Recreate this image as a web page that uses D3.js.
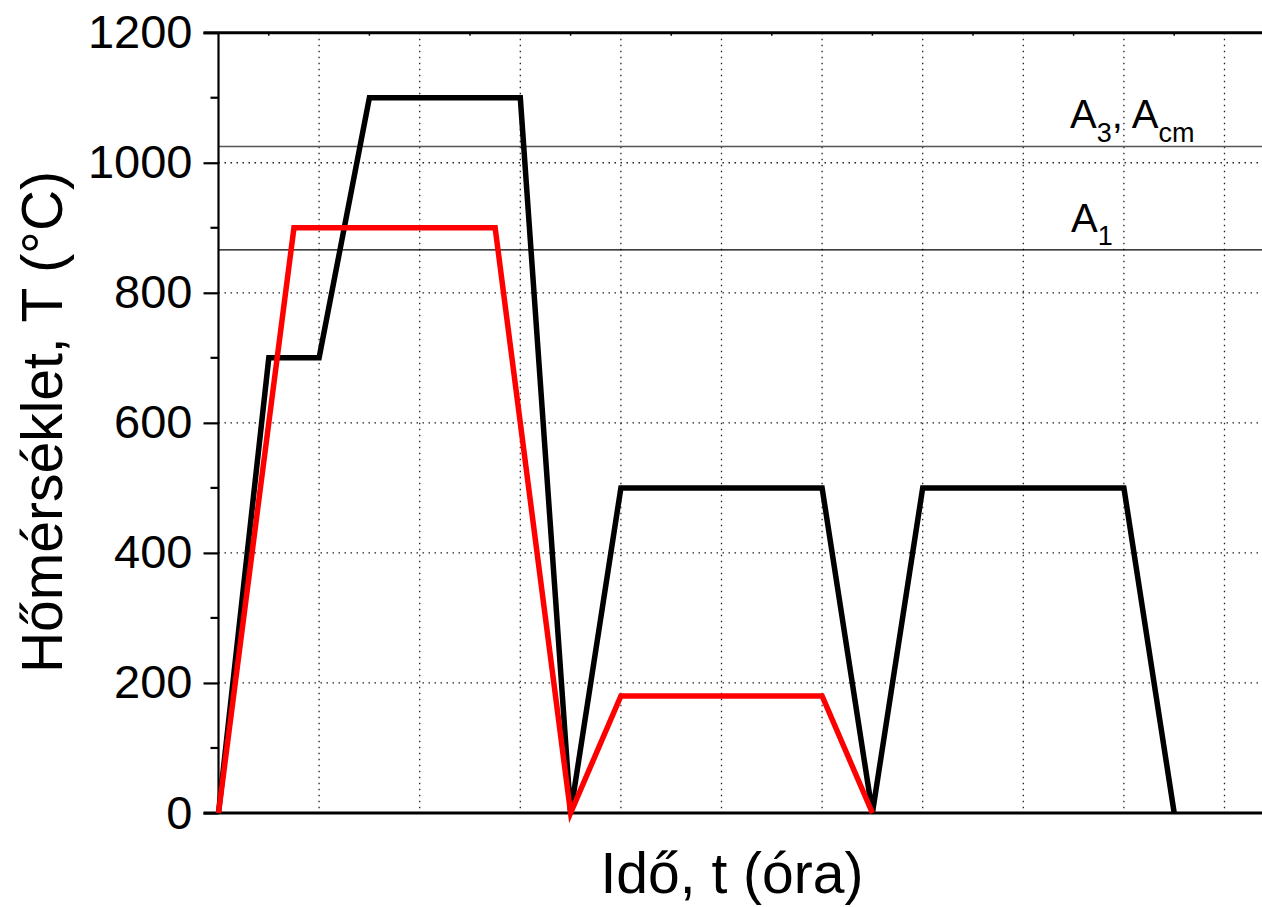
<!DOCTYPE html>
<html>
<head>
<meta charset="utf-8">
<script src="https://cdn.jsdelivr.net/npm/d3@7"></script>
<style>
  body { margin: 0; background: #fff; }
  svg { display: block; font-family: Arial, "Liberation Sans", sans-serif; }
  .grid line { stroke: #222; stroke-width: 1.3; stroke-dasharray: 1.5 4.5; }
</style>
</head>
<body>
<div class="container"></div>
<script>
// time in hours, temperature in °C
var blackT = [0, 0.5, 1.0, 1.5, 3.0, 3.5, 4.0, 6.0, 6.5, 7.0, 9.0, 9.5];
var blackV = [0, 700, 700, 1100, 1100, 0, 500, 500, 0, 500, 500, 0];
var redT = [0, 0.75, 2.75, 3.5, 4.0, 6.0, 6.5];
var redV = [0, 900, 900, 0, 180, 180, 0];

var critNames = ["A3", "A1"];
var critTemps = [1025, 866];

var yTicks = [0, 200, 400, 600, 800, 1000, 1200];
var yMinor = d3.range(100, 1200, 200);
var xGrid = d3.range(1, 11);

var width = 1262, height = 907;
var x0 = 218.5, unit = 100.6;

var svg = d3.select(".container").append("svg")
  .attr("width", width).attr("height", height);

var x = d3.scaleLinear().domain([0, 10.5]).range([x0, x0 + 10.5 * unit]);
var y = d3.scaleLinear().domain([0, 1200]).range([813, 32.7]);

// dotted grid
var grid = svg.append("g").attr("class", "grid");
grid.selectAll(".v").data(xGrid).enter().append("line")
  .attr("x1", d => x(d)).attr("x2", d => x(d))
  .attr("y1", y(1200)).attr("y2", y(0));
grid.selectAll(".h").data(yTicks.filter(d => d > 0 && d < 1200)).enter().append("line")
  .attr("x1", x(0)).attr("x2", width)
  .attr("y1", d => y(d)).attr("y2", d => y(d));

// critical temperature lines
svg.append("line")
  .attr("x1", x(0)).attr("x2", width)
  .attr("y1", y(critTemps[0])).attr("y2", y(critTemps[0]))
  .attr("stroke", "#555").attr("stroke-width", 1.6);
svg.append("line")
  .attr("x1", x(0)).attr("x2", width)
  .attr("y1", y(critTemps[1])).attr("y2", y(critTemps[1]))
  .attr("stroke", "#000").attr("stroke-width", 1.2);

var a3 = svg.append("text").attr("x", 1070).attr("y", y(critTemps[0]) - 18)
  .attr("font-size", 40);
a3.append("tspan").text("A");
a3.append("tspan").attr("font-size", 27).attr("dy", 14).text("3");
a3.append("tspan").attr("dy", -14).text(", A");
a3.append("tspan").attr("font-size", 27).attr("dy", 14).text("cm");

var a1 = svg.append("text").attr("x", 1071).attr("y", y(critTemps[1]) - 18)
  .attr("font-size", 40);
a1.append("tspan").text("A");
a1.append("tspan").attr("font-size", 27).attr("dy", 13).text("1");

// axes
var yAxis = svg.append("g").attr("transform", "translate(" + x0 + ",0)");
yAxis.call(d3.axisLeft(y).tickValues(yTicks).tickSize(15).tickPadding(11).tickFormat(d3.format("d")));
yAxis.selectAll(".tick line").attr("stroke-width", 2.2);
yAxis.selectAll(".tick text").attr("font-size", 47).attr("font-family", "Arial, 'Liberation Sans', sans-serif");
yAxis.select(".domain").remove();
yAxis.selectAll(".minor").data(yMinor).enter().append("line")
  .attr("x1", -8).attr("x2", 0)
  .attr("y1", d => y(d)).attr("y2", d => y(d))
  .attr("stroke", "#000").attr("stroke-width", 2.2);
yAxis.append("line").attr("x1", 0).attr("x2", 0)
  .attr("y1", y(1200)).attr("y2", y(0))
  .attr("stroke", "#000").attr("stroke-width", 2.2);

// top axis with small inward ticks
var topAxis = svg.append("g");
topAxis.append("line").attr("x1", x0 - 15).attr("x2", width)
  .attr("y1", y(1200)).attr("y2", y(1200))
  .attr("stroke", "#000").attr("stroke-width", 3);
topAxis.selectAll(".t").data(d3.range(0.5, 10.5, 1)).enter().append("line")
  .attr("x1", d => x(d)).attr("x2", d => x(d))
  .attr("y1", y(1200)).attr("y2", y(1200) + 3)
  .attr("stroke", "#000").attr("stroke-width", 1.5);

// bottom axis
svg.append("line").attr("x1", x0 - 15).attr("x2", width)
  .attr("y1", y(0)).attr("y2", y(0))
  .attr("stroke", "#000").attr("stroke-width", 3.2);

// series
var line = d3.line().x(d => x(d[0])).y(d => y(d[1]));
svg.append("path")
  .datum(d3.zip(blackT, blackV))
  .attr("d", line)
  .attr("fill", "none").attr("stroke", "#000").attr("stroke-width", 5.5);
svg.append("path")
  .datum(d3.zip(redT, redV))
  .attr("d", line)
  .attr("fill", "none").attr("stroke", "#ff0000").attr("stroke-width", 5.5);

// titles
svg.append("text")
  .attr("x", 732).attr("y", 893)
  .attr("text-anchor", "middle").attr("font-size", 57)
  .text("Idő, t (óra)");
svg.append("text")
  .attr("transform", "translate(62,422) rotate(-90)")
  .attr("text-anchor", "middle").attr("font-size", 57)
  .text("Hőmérséklet, T (°C)");
</script>
</body>
</html>
